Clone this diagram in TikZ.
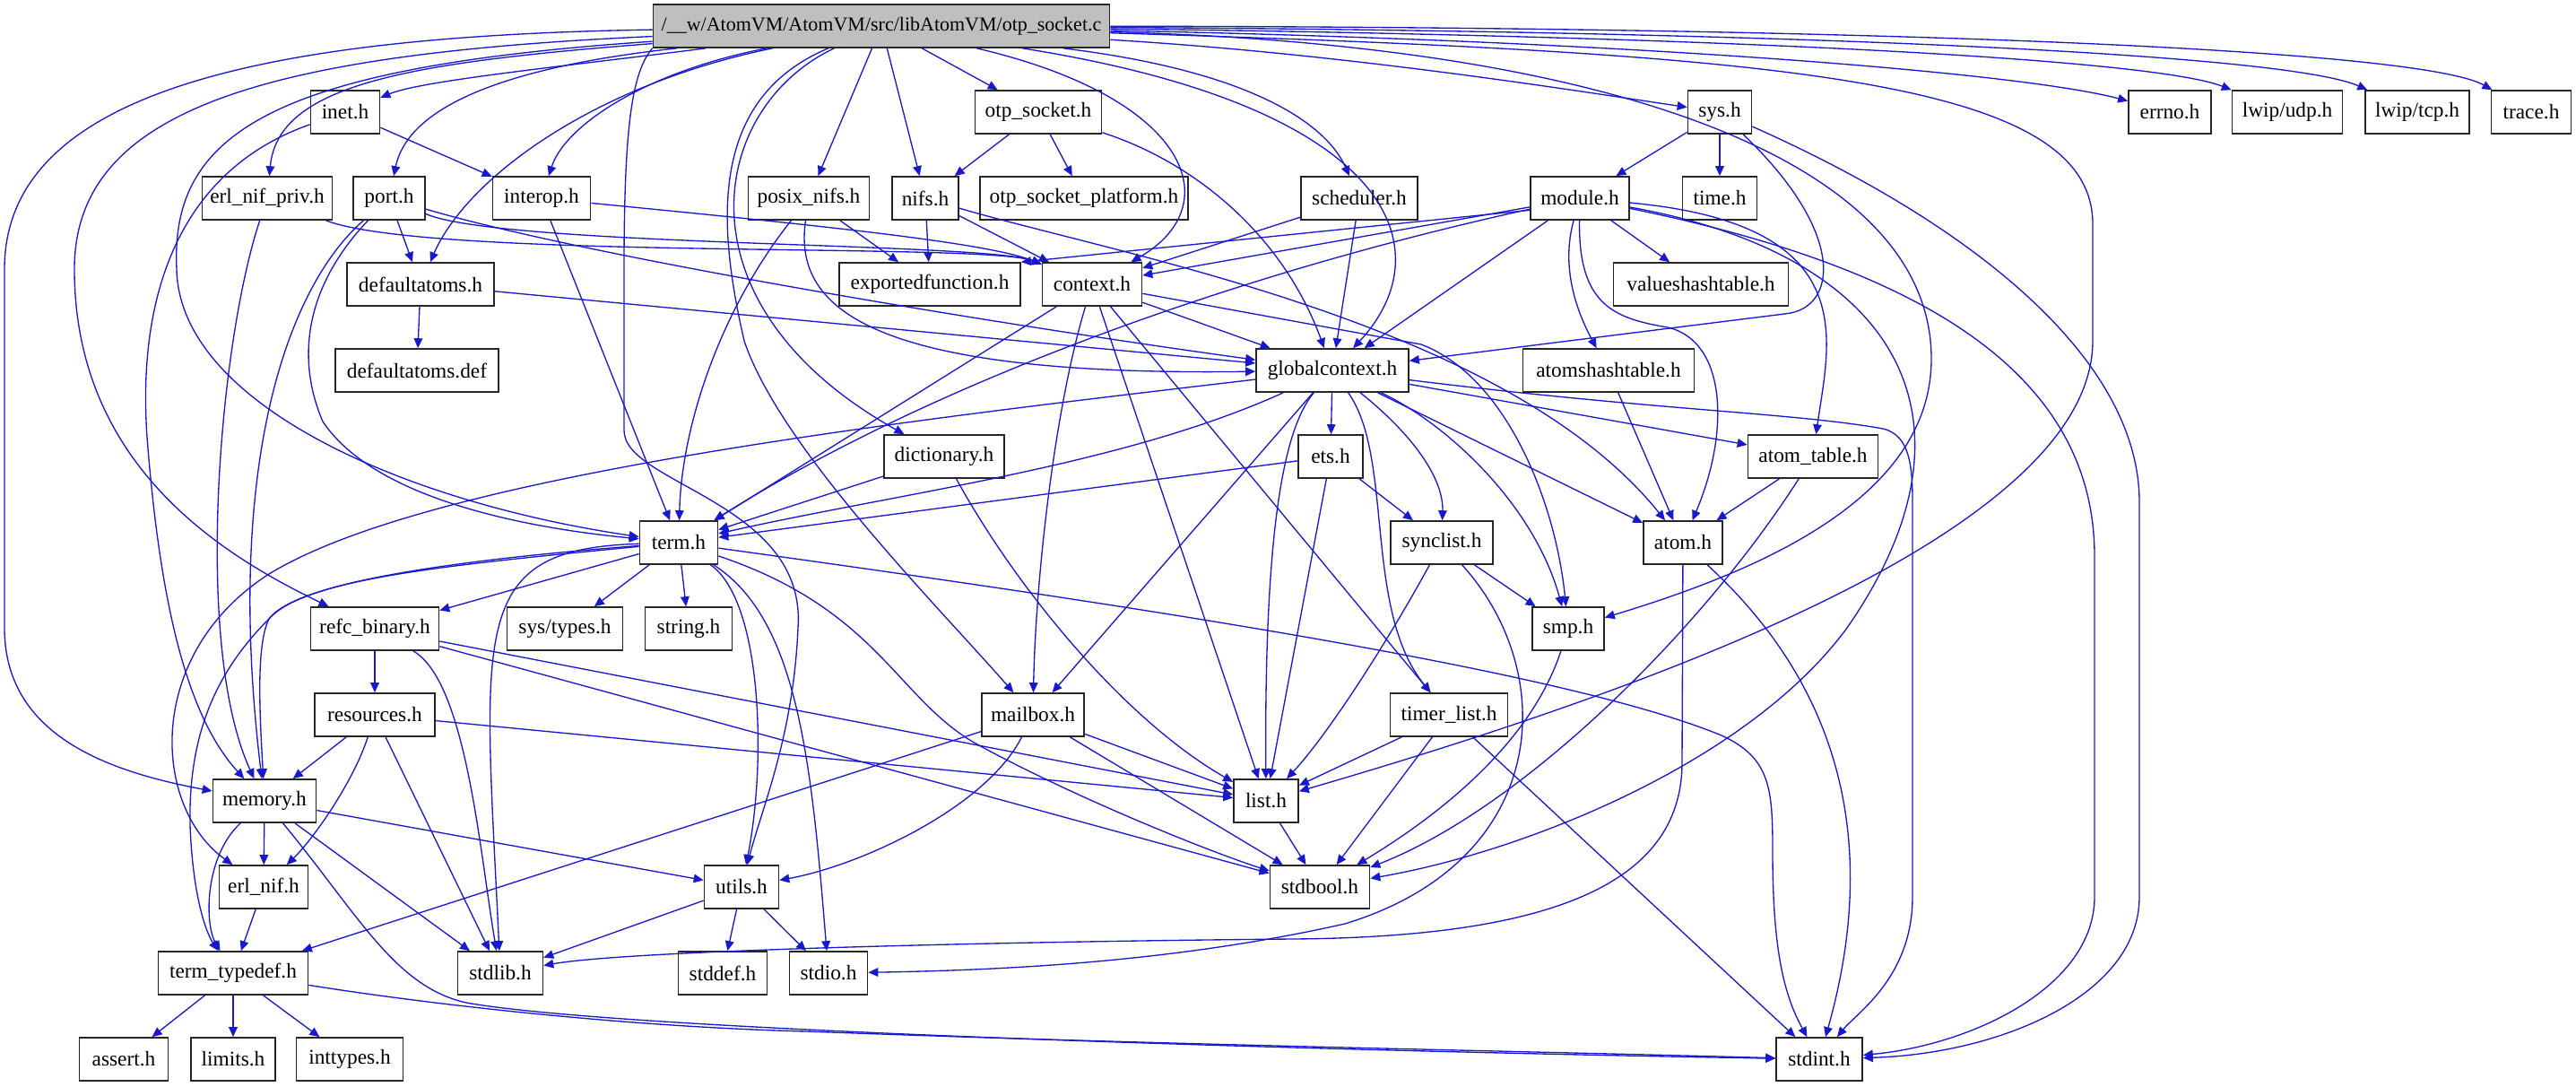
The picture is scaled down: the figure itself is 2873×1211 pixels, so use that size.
\documentclass[tikz,border=0pt]{standalone}
\usepackage{fontspec}
\setmainfont{Liberation Serif}
\usepackage{xcolor}
\usetikzlibrary{positioning, calc, arrows.meta}
\definecolor{edgeblue}{RGB}{24,24,204}
\definecolor{rootgray}{RGB}{191,191,191}

\begin{document}
\begin{tikzpicture}[x=0.3pt, y=-0.3pt,
		hdr/.style={draw=black!85, rectangle, line width=0.5pt, minimum height=14.4pt, inner sep=1pt, font=\fontsize{7}{8}\selectfont},
		bw/.style={minimum width=#1*0.3pt},
		dep/.style={draw=edgeblue, line width=0.4pt, -{Triangle[length=3.3pt, width=2.9pt]}}]
	\useasboundingbox (0,0) rectangle (2873,1211);

	\node[hdr, bw=509, fill=rootgray, font=\fontsize{6.6}{8}\selectfont] (root) at (983,29) {/\_\_w/AtomVM/AtomVM/src/libAtomVM/otp\_socket.c};
	\node[hdr, bw=77] (inet) at (385,125) {inet.h};
	\node[hdr, bw=141] (otpsock) at (1158,125) {otp\_socket.h};
	\node[hdr, bw=71] (sys) at (1918,125) {sys.h};
	\node[hdr, bw=92] (errno) at (2420,125) {errno.h};
	\node[hdr, bw=123] (udp) at (2551,125) {lwip/udp.h};
	\node[hdr, bw=116] (tcp) at (2696,125) {lwip/tcp.h};
	\node[hdr, bw=89] (trace) at (2823,125) {trace.h};
	\node[hdr, bw=145] (enifpriv) at (298,221) {erl\_nif\_priv.h};
	\node[hdr, bw=80] (port) at (434,221) {port.h};
	\node[hdr, bw=109] (interop) at (604,221) {interop.h};
	\node[hdr, bw=135] (posixnifs) at (902,221) {posix\_nifs.h};
	\node[hdr, bw=74] (nifs) at (1032,221) {nifs.h};
	\node[hdr, bw=232] (otpplat) at (1209,221) {otp\_socket\_platform.h};
	\node[hdr, bw=130] (sched) at (1516,221) {scheduler.h};
	\node[hdr, bw=110] (module) at (1762,221) {module.h};
	\node[hdr, bw=83] (time) at (1918,221) {time.h};
	\node[hdr, bw=164] (defatoms) at (469,317) {defaultatoms.h};
	\node[hdr, bw=202] (expfun) at (1037,317) {exportedfunction.h};
	\node[hdr, bw=111] (context) at (1218,317) {context.h};
	\node[hdr, bw=195] (valhash) at (1897,317) {valueshashtable.h};
	\node[hdr, bw=182] (defdef) at (465,413) {defaultatoms.def};
	\node[hdr, bw=170] (gctx) at (1486,413) {globalcontext.h};
	\node[hdr, bw=191] (atomhash) at (1794,413) {atomshashtable.h};
	\node[hdr, bw=134] (dict) at (1053,509) {dictionary.h};
	\node[hdr, bw=72] (ets) at (1484,509) {ets.h};
	\node[hdr, bw=145] (atomtab) at (2022,509) {atom\_table.h};
	\node[hdr, bw=87] (term) at (757,605) {term.h};
	\node[hdr, bw=114] (synclist) at (1608,605) {synclist.h};
	\node[hdr, bw=88] (atom) at (1877,605) {atom.h};
	\node[hdr, bw=143] (refcbin) at (418,701) {refc\_binary.h};
	\node[hdr, bw=129] (systypes) at (630,701) {sys/types.h};
	\node[hdr, bw=97] (string) at (768,701) {string.h};
	\node[hdr, bw=80] (smp) at (1749,701) {smp.h};
	\node[hdr, bw=134] (resources) at (418,797) {resources.h};
	\node[hdr, bw=114] (mailbox) at (1152,797) {mailbox.h};
	\node[hdr, bw=131] (timerlist) at (1616,797) {timer\_list.h};
	\node[hdr, bw=115] (memory) at (295,893) {memory.h};
	\node[hdr, bw=72] (list) at (1412,893) {list.h};
	\node[hdr, bw=99] (erlnif) at (294,989) {erl\_nif.h};
	\node[hdr, bw=83] (utils) at (827,989) {utils.h};
	\node[hdr, bw=111] (stdbool) at (1472,989) {stdbool.h};
	\node[hdr, bw=167] (termtd) at (260,1085) {term\_typedef.h};
	\node[hdr, bw=95] (stdlib) at (558,1085) {stdlib.h};
	\node[hdr, bw=99] (stddef) at (806,1085) {stddef.h};
	\node[hdr, bw=87] (stdio) at (924,1085) {stdio.h};
	\node[hdr, bw=99] (assert) at (138,1181) {assert.h};
	\node[hdr, bw=94] (limits) at (260,1181) {limits.h};
	\node[hdr, bw=119] (inttypes) at (390,1181) {inttypes.h};
	\node[hdr, bw=96] (stdint) at (2029,1181) {stdint.h};

	\draw[dep] (root) .. controls (620,75) and (470,90) .. (inet);
	\draw[dep] (root) .. controls (450,70) and (310,95) .. (enifpriv);
	\draw[dep] (root) .. controls (560,75) and (455,120) .. (port);
	\draw[dep] (root) .. controls (720,80) and (630,140) .. (interop);
	\draw[dep] (root) .. controls (660,95) and (520,200) .. (defatoms);
	\draw[dep] (root) -- (posixnifs);
	\draw[dep] (root) -- (nifs);
	\draw[dep] (root) -- (otpsock);
	\draw[dep] (root) .. controls (1330,110) and (1370,230) .. (context);
	\draw[dep] (root) .. controls (1560,120) and (1610,280) .. (gctx);
	\draw[dep] (root) .. controls (1400,80) and (1480,140) .. (sched);
	\draw[dep] (root) .. controls (1500,60) and (1750,100) .. (sys);
	\draw[dep] (root) .. controls (1800,45) and (2250,80) .. (errno);
	\draw[dep] (root) .. controls (1900,40) and (2400,65) .. (udp);
	\draw[dep] (root) .. controls (2000,35) and (2550,60) .. (tcp);
	\draw[dep] (root) .. controls (2100,30) and (2700,55) .. (trace);
	\draw[dep] (root) .. controls (2000,60) and (2334,90) .. (2334,250) -- (2334,380) .. controls (2334,600) and (1800,780) .. (list);
	\draw[dep] (root) .. controls (1800,50) and (2154,180) .. (2154,400) .. controls (2154,560) and (1950,640) .. (smp);
	\draw[dep] (root) .. controls (300,75) and (190,150) .. (197,300) .. controls (200,450) and (450,560) .. (term);
	\draw[dep] (root) .. controls (790,120) and (750,340) .. (dict);
	\draw[dep] (root) .. controls (790,110) and (800,250) .. (830,380) .. controls (870,500) and (1050,680) .. (mailbox);
	\draw[dep] (root) .. controls (300,40) and (5,100) .. (5,300) -- (5,700) .. controls (5,820) and (120,860) .. (memory);
	\draw[dep] (root) .. controls (300,60) and (83,120) .. (83,300) .. controls (83,520) and (250,620) .. (refcbin);
	\draw[dep] (root.south west) .. controls (705,80) and (696,140) .. (696,300) -- (696,480) .. controls (696,540) and (900,560) .. (890,700) .. controls (885,820) and (850,900) .. (utils);

	\draw[dep] (inet) -- (interop);
	\draw[dep] (inet) .. controls (200,190) and (150,330) .. (165,500) .. controls (180,680) and (210,800) .. (memory);
	\draw[dep] (enifpriv) .. controls (480,290) and (1100,270) .. (context);
	\draw[dep] (enifpriv) .. controls (245,380) and (215,720) .. (memory);
	\draw[dep] (port) -- (defatoms);
	\draw[dep] (port) .. controls (560,275) and (1100,270) .. (context);
	\draw[dep] (port) .. controls (650,285) and (1100,360) .. (gctx);
	\draw[dep] (port) .. controls (340,320) and (330,400) .. (360,470) .. controls (420,560) and (600,590) .. (term);
	\draw[dep] (port) .. controls (320,320) and (250,520) .. (memory);
	\draw[dep] (interop) .. controls (900,250) and (1100,270) .. (context);
	\draw[dep] (interop) -- (term);
	\draw[dep] (defatoms) -- (defdef);
	\draw[dep] (defatoms) -- (gctx);

	\draw[dep] (otpsock) -- (nifs);
	\draw[dep] (otpsock) -- (otpplat);
	\draw[dep] (otpsock) .. controls (1330,180) and (1430,260) .. (gctx);
	\draw[dep] (posixnifs) -- (expfun);
	\draw[dep] (posixnifs) .. controls (800,350) and (760,480) .. (term);
	\draw[dep] (posixnifs) .. controls (885,340) and (960,420) .. (gctx);
	\draw[dep] (nifs) -- (expfun);
	\draw[dep] (nifs) -- (context);
	\draw[dep] (nifs) .. controls (1250,285) and (1680,360) .. (atom);
	\draw[dep] (sched) -- (context);
	\draw[dep] (sched) -- (gctx);

	\draw[dep] (module) -- (context);
	\draw[dep] ([yshift=-4pt]module.west) -- (expfun.north east);
	\draw[dep] (module) .. controls (1400,300) and (1050,420) .. (term);
	\draw[dep] (module) -- (gctx);
	\draw[dep] (module) .. controls (1740,300) and (1760,350) .. (atomhash);
	\draw[dep] (module) .. controls (1760,340) and (1800,355) .. (1860,365) .. controls (1925,380) and (1930,480) .. (atom);
	\draw[dep] (module) -- (valhash);
	\draw[dep] (module) .. controls (2080,250) and (2040,380) .. (atomtab);
	\draw[dep] (module) .. controls (2120,285) and (2220,470) .. (2060,700) .. controls (1950,850) and (1700,950) .. (stdbool);
	\draw[dep] (module) .. controls (2150,300) and (2336,420) .. (2336,620) -- (2336,1000) .. controls (2336,1100) and (2200,1165) .. (stdint);
	\draw[dep] (sys) -- (module);
	\draw[dep] (sys) -- (time);
	\draw[dep] (sys) .. controls (2060,260) and (2050,345) .. (1990,350) -- (gctx);
	\draw[dep] (sys) .. controls (2200,250) and (2386,400) .. (2386,560) -- (2386,1000) .. controls (2386,1110) and (2230,1175) .. (stdint);

	\draw[dep] (context) -- (gctx);
	\draw[dep] (context) -- (term);
	\draw[dep] (context) .. controls (1175,460) and (1155,650) .. (mailbox);
	\draw[dep] (context) -- (list);
	\draw[dep] (context) -- (timerlist);
	\draw[dep] (context) -- (1585,384) .. controls (1680,420) and (1735,560) .. (smp);

	\draw[dep] (gctx) .. controls (1000,470) and (480,530) .. (300,640) .. controls (160,730) and (170,900) .. (erlnif);
	\draw[dep] (gctx) .. controls (1250,520) and (1000,550) .. (term);
	\draw[dep] (gctx) -- (mailbox);
	\draw[dep] (gctx) .. controls (1430,480) and (1410,600) .. (list);
	\draw[dep] (gctx) -- (ets);
	\draw[dep] (gctx) .. controls (1555,510) and (1520,680) .. (timerlist);
	\draw[dep] (gctx) .. controls (1570,480) and (1610,530) .. (synclist);
	\draw[dep] (gctx) .. controls (1610,470) and (1710,560) .. (smp);
	\draw[dep] (gctx) -- (atom);
	\draw[dep] (gctx) -- (atomtab);
	\draw[dep] (gctx) .. controls (1850,458) and (2000,460) .. (2100,478) .. controls (2130,485) and (2133,520) .. (2133,560) -- (2133,1000) .. controls (2133,1090) and (2070,1130) .. (stdint);

	\draw[dep] (dict) -- (term);
	\draw[dep] (dict) .. controls (1130,650) and (1250,800) .. (list);
	\draw[dep] (ets) -- (term);
	\draw[dep] (ets) -- (synclist);
	\draw[dep] (ets) -- (list);
	\draw[dep] (atomtab) -- (atom);
	\draw[dep] (atomtab) .. controls (1900,700) and (1700,900) .. (stdbool);
	\draw[dep] (atomhash) -- (atom);

	\draw[dep] (term) -- (refcbin);
	\draw[dep] (term) -- (systypes);
	\draw[dep] (term) -- (string);
	\draw[dep] (term) .. controls (500,625) and (330,650) .. (300,690) .. controls (285,720) and (290,800) .. (memory);
	\draw[dep] (term) .. controls (500,630) and (340,645) .. (300,690) .. controls (240,750) and (210,820) .. (212,920) .. controls (215,1000) and (230,1040) .. (termtd);
	\draw[dep] (term) .. controls (520,612) and (540,700) .. (stdlib);
	\draw[dep] (term) .. controls (850,670) and (855,850) .. (utils);
	\draw[dep] (term) .. controls (890,690) and (905,850) .. (stdio);
	\draw[dep] (term) .. controls (980,680) and (1000,780) .. (1090,830) .. controls (1200,890) and (1350,950) .. (stdbool);
	\draw[dep] (term) .. controls (1300,680) and (1750,750) .. (1920,820) .. controls (1975,845) and (1977,880) .. (1977,950) .. controls (1977,1060) and (1990,1110) .. (stdint);

	\draw[dep] (refcbin) -- (resources);
	\draw[dep] (refcbin) .. controls (520,760) and (535,950) .. (stdlib);
	\draw[dep] (refcbin) -- (stdbool);
	\draw[dep] (refcbin) -- (list);
	\draw[dep] (resources) -- (memory);
	\draw[dep] (resources) .. controls (395,870) and (350,935) .. (erlnif);
	\draw[dep] (resources) -- (stdlib);
	\draw[dep] (resources) -- (list);
	\draw[dep] (memory) -- (erlnif);
	\draw[dep] (memory) .. controls (228,955) and (228,1030) .. (termtd);
	\draw[dep] (memory) -- (stdlib);
	\draw[dep] (memory) -- (utils);
	\draw[dep] (memory) .. controls (400,1020) and (440,1100) .. (520,1118) .. controls (700,1150) and (1500,1172) .. (stdint);
	\draw[dep] (erlnif) -- (termtd);
	\draw[dep] (termtd) -- (assert);
	\draw[dep] (termtd) -- (limits);
	\draw[dep] (termtd) -- (inttypes);
	\draw[dep] (termtd) .. controls (480,1120) and (700,1145) .. (900,1150) .. controls (1300,1165) and (1700,1172) .. (stdint);
	\draw[dep] (utils) -- (stdlib);
	\draw[dep] (utils) -- (stddef);
	\draw[dep] (utils) -- (stdio);

	\draw[dep] (mailbox) -- (termtd);
	\draw[dep] (mailbox) .. controls (1100,900) and (960,965) .. (utils);
	\draw[dep] (mailbox) -- (list);
	\draw[dep] (mailbox) -- (stdbool);
	\draw[dep] (list) -- (stdbool);
	\draw[dep] (timerlist) -- (list);
	\draw[dep] (timerlist) -- (stdbool);
	\draw[dep] (timerlist) -- (stdint);
	\draw[dep] (synclist) .. controls (1545,720) and (1480,820) .. (list);
	\draw[dep] (synclist) -- (smp);
	\draw[dep] (synclist) .. controls (1740,750) and (1730,960) .. (1500,1030) .. controls (1300,1075) and (1100,1082) .. (stdio);
	\draw[dep] (smp) .. controls (1710,820) and (1620,900) .. (stdbool);
	\draw[dep] (atom) -- (1876,850) .. controls (1876,990) and (1720,1045) .. (1440,1047) .. controls (1100,1050) and (700,1060) .. (stdlib);
	\draw[dep] (atom) .. controls (2090,800) and (2080,1000) .. (stdint);
\end{tikzpicture}
\end{document}
